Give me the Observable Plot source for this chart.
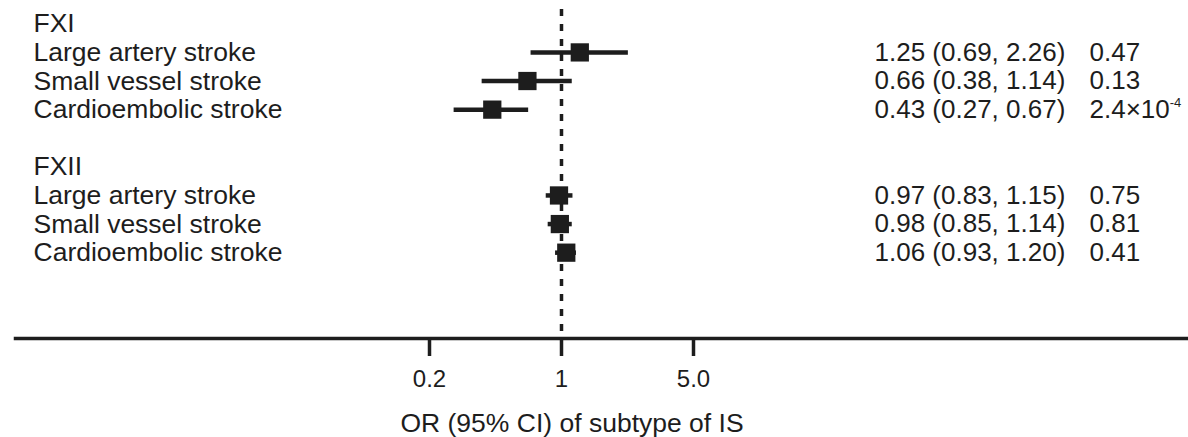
<!DOCTYPE html>
<html>
<head>
<meta charset="utf-8">
<script src="https://cdn.jsdelivr.net/npm/d3@7"></script>
<script src="https://cdn.jsdelivr.net/npm/@observablehq/plot@0.6"></script>
<style>
  html, body { margin: 0; padding: 0; background: #fff; }
  #chart svg { display: block; }
</style>
</head>
<body>
<div id="chart"></div>
<script>
// Coagulation factors and ischaemic stroke subtypes
const factors = ["FXI", "FXII"];
const subtypes = ["Large artery stroke", "Small vessel stroke", "Cardioembolic stroke"];

// Odds ratios with 95% confidence limits, per subtype
const orFXI = [1.25, 0.66, 0.43];
const loFXI = [0.69, 0.38, 0.27];
const hiFXI = [2.26, 1.14, 0.67];
const pFXI = ["0.47", "0.13", "2.4×10^-4"];

const orFXII = [0.97, 0.98, 1.06];
const loFXII = [0.83, 0.85, 0.93];
const hiFXII = [1.15, 1.14, 1.20];
const pFXII = ["0.75", "0.81", "0.41"];

// Axis ticks
const xTicks = [0.2, 1, 5];
const xTickLabels = ["0.2", "1", "5.0"];
const xTitle = "OR (95% CI) of subtype of IS";

const ink = "#1d1d1d";
const font = "'Liberation Sans', Arial, Helvetica, sans-serif";

// One row per line of the table: a header for each factor, then its subtypes
const series = [
  {or: orFXI, lo: loFXI, hi: hiFXI, p: pFXI},
  {or: orFXII, lo: loFXII, hi: hiFXII, p: pFXII}
];
const headers = [];
const rows = [];
factors.forEach((f, i) => {
  const base = i * (subtypes.length + 2);
  headers.push({row: base, label: f});
  subtypes.forEach((s, j) => {
    const d = series[i];
    rows.push({
      row: base + 1 + j,
      label: s,
      or: d.or[j],
      lo: d.lo[j],
      hi: d.hi[j],
      ci: `${d.or[j].toFixed(2)} (${d.lo[j].toFixed(2)}, ${d.hi[j].toFixed(2)})`,
      p: d.p[j]
    });
  });
});

const chart = Plot.plot({
  width: 1188,
  height: 437,
  marginLeft: 15,
  marginRight: 0,
  marginTop: 9,
  marginBottom: 99,
  style: {fontFamily: font, color: ink, background: "#fff", overflow: "visible"},
  x: {type: "log", domain: [0.2, 5], range: [429, 693]},
  y: {domain: [-0.5, 11], reverse: true, axis: null},
  marks: [
    // null line at OR = 1
    Plot.ruleX([1], {stroke: ink, strokeWidth: 3.5, strokeDasharray: "7,8"}),
    // confidence intervals and point estimates
    Plot.ruleY(rows, {y: "row", x1: "lo", x2: "hi", stroke: ink, strokeWidth: 4.5}),
    Plot.dot(rows, {x: "or", y: "row", symbol: "square", r: 10.3, fill: ink, stroke: null}),
    // baseline and ticks
    Plot.frame({anchor: "bottom", stroke: ink, strokeWidth: 3.5}),
    Plot.axisX({
      ticks: xTicks,
      tickFormat: (d) => xTickLabels[xTicks.indexOf(d)],
      tickSize: 18,
      tickPadding: 13,
      strokeWidth: 3.5,
      stroke: ink,
      fill: ink,
      fontSize: 24,
      label: null
    }),
    Plot.text([xTitle], {frameAnchor: "bottom", lineAnchor: "middle", dx: -30, dy: 85, fontSize: 26.5, fill: ink}),
    // left-hand labels
    Plot.text(headers, {y: "row", text: "label", frameAnchor: "left", dx: 18, textAnchor: "start", fontSize: 26.5, fill: ink}),
    Plot.text(rows, {y: "row", text: "label", frameAnchor: "left", dx: 18, textAnchor: "start", fontSize: 26.5, fill: ink}),
    // right-hand estimates and P values
    Plot.text(rows, {y: "row", text: "ci", frameAnchor: "left", dx: 859, textAnchor: "start", fontSize: 26, fill: ink}),
    Plot.text(rows, {y: "row", text: "p", frameAnchor: "left", dx: 1074, textAnchor: "start", fontSize: 26, fill: ink})
  ]
});

// Render exponents such as "10^-4" as superscripts
chart.querySelectorAll("text").forEach(t => {
  if (t.childElementCount === 0 && t.textContent.includes("^")) {
    const [base, exp] = t.textContent.split("^");
    t.textContent = base;
    const sup = document.createElementNS("http://www.w3.org/2000/svg", "tspan");
    sup.setAttribute("dy", "-11");
    sup.setAttribute("font-size", "13");
    sup.textContent = exp;
    t.appendChild(sup);
  }
});

document.getElementById("chart").appendChild(chart);
</script>
</body>
</html>
